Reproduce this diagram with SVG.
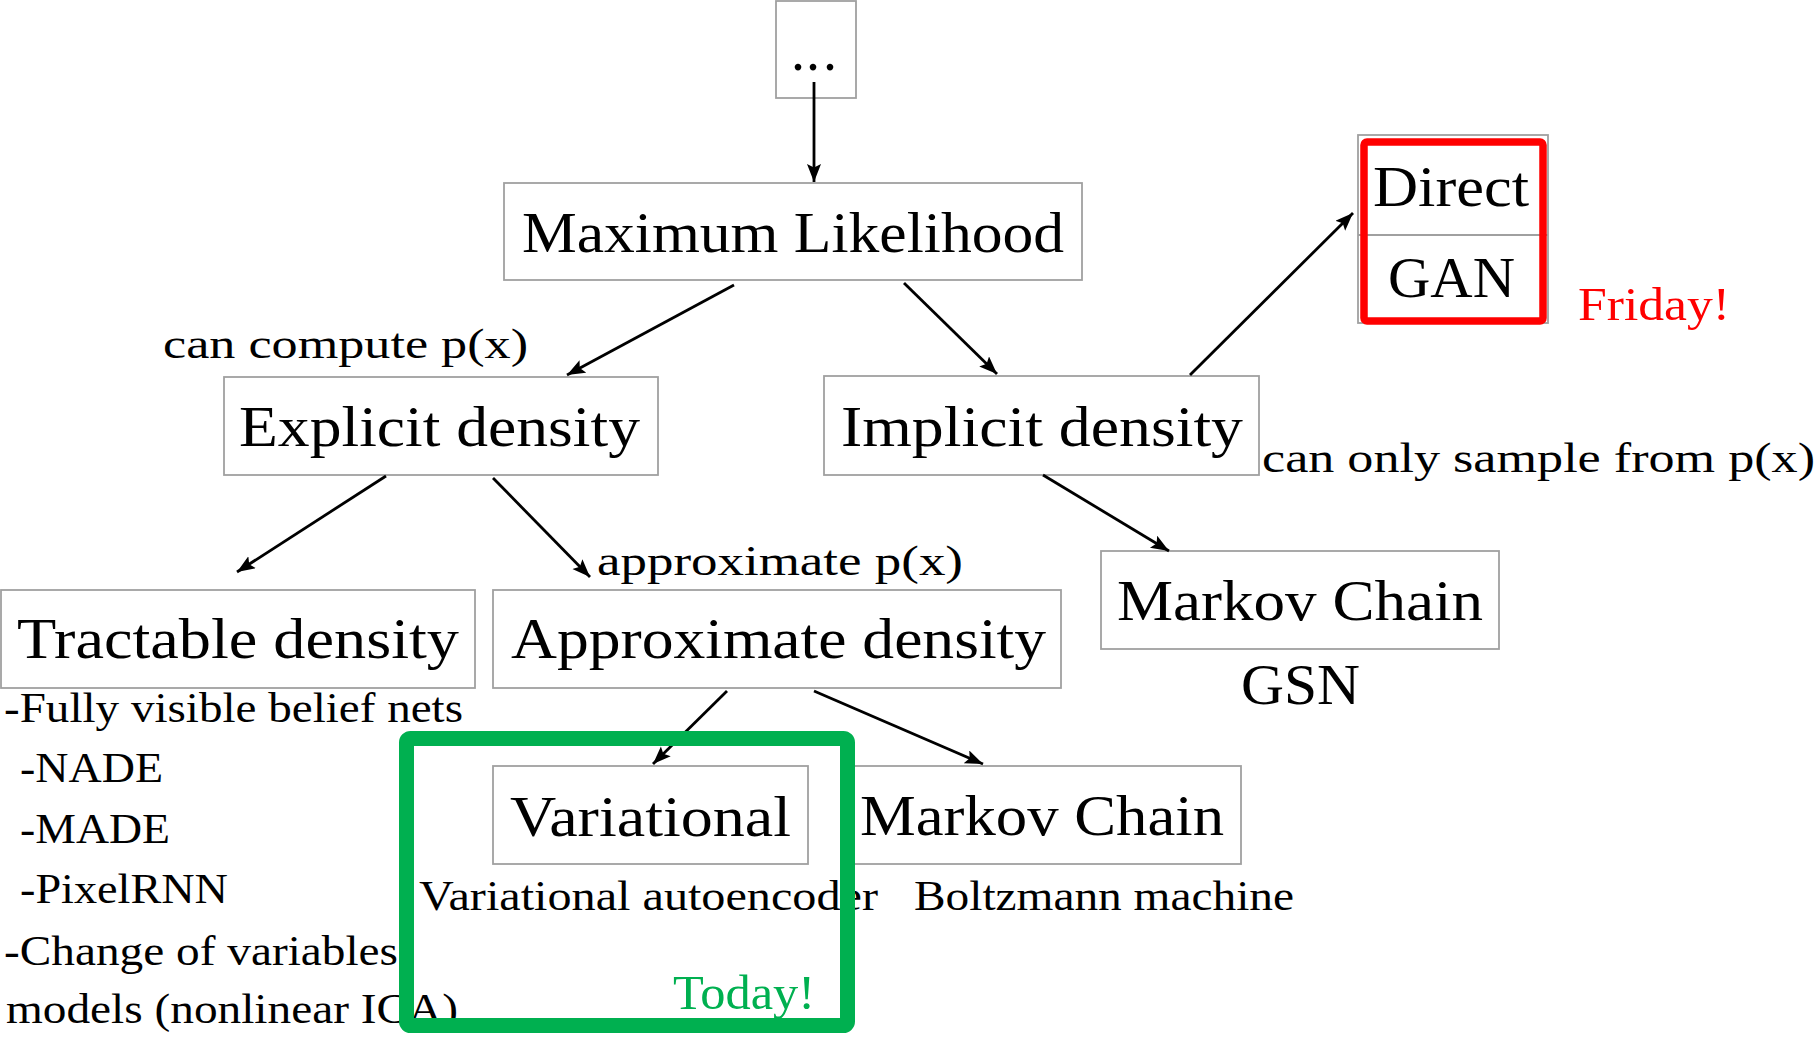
<svg xmlns="http://www.w3.org/2000/svg" width="1818" height="1038" viewBox="0 0 1818 1038">
<style>
.box{fill:#fff;stroke:#a0a0a0;stroke-width:1.8}
.cm{font-family:"Liberation Serif",serif;font-size:56px;fill:#000}
.sm{font-family:"Liberation Serif",serif;font-size:43px;fill:#000}
.edge{stroke:#000;stroke-width:2.8;fill:none;marker-end:url(#ah)}
</style>
<defs>
<marker id="ah" markerUnits="userSpaceOnUse" markerWidth="20" markerHeight="16" refX="18" refY="7" orient="auto">
<path d="M0,0 L18,7 L0,14 L3.5,7 z" fill="#000"/>
</marker>
</defs>
<rect width="1818" height="1038" fill="#fff"/>

<g id="node-dots">
<rect class="box" x="776" y="1" width="80" height="97"/>
<text class="cm" x="791 806 823" y="70">...</text>
</g>
<g id="node-ml">
<rect class="box" x="504" y="183" width="578" height="97"/>
<text class="cm" x="522" y="252" textLength="542" lengthAdjust="spacingAndGlyphs">Maximum Likelihood</text>
</g>
<g id="node-explicit">
<rect class="box" x="224" y="377" width="434" height="98"/>
<text class="cm" x="239" y="446" textLength="401" lengthAdjust="spacingAndGlyphs">Explicit density</text>
</g>
<g id="node-implicit">
<rect class="box" x="824" y="376" width="435" height="99"/>
<text class="cm" x="841" y="446" textLength="402" lengthAdjust="spacingAndGlyphs">Implicit density</text>
</g>
<g id="node-direct">
<rect class="box" x="1358" y="135" width="190" height="188"/>
<line x1="1358" y1="235" x2="1548" y2="235" stroke="#a0a0a0" stroke-width="1.8"/>
<text class="cm" x="1373" y="206" textLength="156" lengthAdjust="spacingAndGlyphs">Direct</text>
<text class="cm" x="1388" y="297" textLength="127" lengthAdjust="spacingAndGlyphs">GAN</text>
</g>
<g id="node-tractable">
<rect class="box" x="1" y="590" width="474" height="98"/>
<text class="cm" x="17" y="658" textLength="442" lengthAdjust="spacingAndGlyphs">Tractable density</text>
</g>
<g id="node-approx">
<rect class="box" x="493" y="590" width="568" height="98"/>
<text class="cm" x="511" y="658" textLength="535" lengthAdjust="spacingAndGlyphs">Approximate density</text>
</g>
<g id="node-markov1">
<rect class="box" x="1101" y="551" width="398" height="98"/>
<text class="cm" x="1117" y="620" textLength="366" lengthAdjust="spacingAndGlyphs">Markov Chain</text>
</g>
<g id="node-variational">
<rect class="box" x="493" y="766" width="315" height="98"/>
<text class="cm" x="510" y="836" textLength="281" lengthAdjust="spacingAndGlyphs">Variational</text>
</g>
<g id="node-markov2">
<rect class="box" x="854" y="766" width="387" height="98"/>
<text class="cm" x="860" y="835" textLength="364" lengthAdjust="spacingAndGlyphs">Markov Chain</text>
</g>

<g id="connectors">
<line class="edge" x1="814" y1="82" x2="814" y2="182"/>
<line class="edge" x1="734" y1="285" x2="567" y2="375"/>
<line class="edge" x1="904" y1="283" x2="997" y2="374"/>
<line class="edge" x1="1190" y1="375" x2="1353" y2="213"/>
<line class="edge" x1="386" y1="476" x2="237" y2="572"/>
<line class="edge" x1="493" y1="478" x2="590" y2="577"/>
<line class="edge" x1="1043" y1="475" x2="1169" y2="551"/>
<line class="edge" x1="727" y1="691" x2="653" y2="764"/>
<line class="edge" x1="814" y1="691" x2="983" y2="764"/>
</g>

<g id="labels">
<text class="sm" x="163" y="358" textLength="365" lengthAdjust="spacingAndGlyphs">can compute p(x)</text>
<text class="sm" x="1262" y="472" textLength="553" lengthAdjust="spacingAndGlyphs">can only sample from p(x)</text>
<text class="sm" x="597" y="575" textLength="366" lengthAdjust="spacingAndGlyphs">approximate p(x)</text>
<text class="cm" x="1241" y="704" textLength="119" lengthAdjust="spacingAndGlyphs">GSN</text>
<text class="sm" x="419" y="910" textLength="459" lengthAdjust="spacingAndGlyphs">Variational autoencoder</text>
<text class="sm" x="914" y="910" textLength="380" lengthAdjust="spacingAndGlyphs">Boltzmann machine</text>
<text class="sm" x="4" y="722" textLength="459" lengthAdjust="spacingAndGlyphs">-Fully visible belief nets</text>
<text class="sm" x="20" y="782" textLength="143" lengthAdjust="spacingAndGlyphs">-NADE</text>
<text class="sm" x="20" y="843" textLength="150" lengthAdjust="spacingAndGlyphs">-MADE</text>
<text class="sm" x="20" y="903" textLength="208" lengthAdjust="spacingAndGlyphs">-PixelRNN</text>
<text class="sm" x="4" y="965" textLength="394" lengthAdjust="spacingAndGlyphs">-Change of variables</text>
<text class="sm" x="6" y="1023" textLength="452" lengthAdjust="spacingAndGlyphs">models (nonlinear ICA)</text>
</g>

<g id="highlight-friday">
<rect x="1364" y="142" width="179" height="179" rx="3" fill="none" stroke="#ff0000" stroke-width="7.5"/>
<text x="1578" y="320" font-family="Liberation Serif, serif" font-size="47" fill="#ff0000" textLength="152" lengthAdjust="spacingAndGlyphs">Friday!</text>
</g>
<g id="highlight-today">
<rect x="406.5" y="738.5" width="441" height="287" rx="4" fill="none" stroke="#00b050" stroke-width="15"/>
<text x="673" y="1009" font-family="Liberation Serif, serif" font-size="49" fill="#00b050" textLength="142" lengthAdjust="spacingAndGlyphs">Today!</text>
</g>
</svg>
